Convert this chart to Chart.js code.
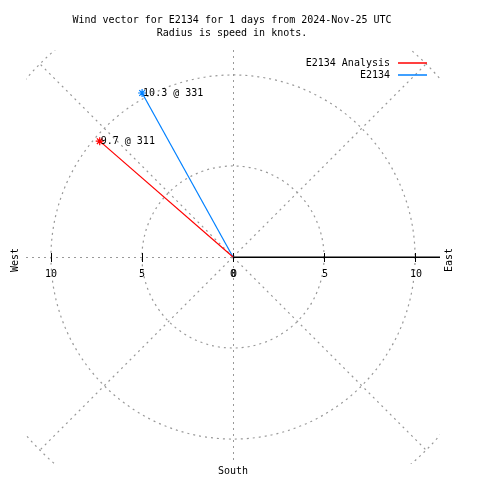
<!DOCTYPE html>
<html>
<head>
<meta charset="utf-8">
<script src="https://cdn.jsdelivr.net/npm/chart.js@4"></script>
<style>
  html, body { margin: 0; padding: 0; background: #fff; }
  #wrap { width: 480px; height: 480px; }
</style>
</head>
<body>
<div id="wrap"><canvas id="windChart" width="480" height="480"></canvas></div>
<script>
// wind data (direction in degrees from north, speed in knots)
const seriesNames = ['E2134 Analysis', 'E2134'];
const directions = [311, 331];
const speeds = [9.7, 10.3];
const seriesColors = ['#ff0000', '#0080ff'];

// grid / ticks
const tickValues = [0, 5, 10];
const gridRadii = [5, 10, 15];
const spokeAngles = [45, 135, 225, 315];
const axisRange = 11.37;

const titleLines = ['Wind vector for E2134 for 1 days from 2024-Nov-25 UTC', 'Radius is speed in knots.'];
const FONT = '10px "DejaVu Sans Mono", monospace';
const GRID = '#999999';

const rad = d => d * Math.PI / 180;
const crisp = v => Math.round(v) + 0.5;

const datasets = seriesNames.map((name, i) => ({
  label: name,
  data: [
    { x: 0, y: 0 },
    { x: speeds[i] * Math.sin(rad(directions[i])), y: speeds[i] * Math.cos(rad(directions[i])) }
  ],
  showLine: true,
  borderColor: seriesColors[i],
  backgroundColor: seriesColors[i],
  borderWidth: 1.2,
  pointStyle: 'star',
  pointRadius: [0, 4],
  pointBorderWidth: 1.2,
  pointBorderColor: seriesColors[i]
}));

// gnuplot-like polar grid, drawn from the chart's own scales
const polarGrid = {
  id: 'polarGrid',
  beforeDatasetsDraw(chart) {
    const { ctx, chartArea: a, scales: { x, y } } = chart;
    const cx = x.getPixelForValue(0), cy = y.getPixelForValue(0);
    const unit = x.getPixelForValue(1) - cx;
    ctx.save();
    ctx.beginPath();
    ctx.rect(a.left, a.top, a.right - a.left, a.bottom - a.top);
    ctx.clip();
    ctx.strokeStyle = GRID;
    ctx.lineWidth = 1.2;
    ctx.setLineDash([2, 4]);
    gridRadii.forEach(r => {
      ctx.beginPath();
      ctx.arc(cx, cy, r * unit, 0, Math.PI * 2);
      ctx.stroke();
    });
    const rMax = gridRadii[gridRadii.length - 1] * unit;
    spokeAngles.forEach(d => {
      ctx.beginPath();
      ctx.moveTo(cx, cy);
      ctx.lineTo(cx + rMax * Math.sin(rad(d)), cy - rMax * Math.cos(rad(d)));
      ctx.stroke();
    });
    ctx.lineWidth = 1;
    ctx.beginPath();
    ctx.moveTo(crisp(cx), a.top);
    ctx.lineTo(crisp(cx), a.bottom);
    ctx.moveTo(a.left, crisp(cy));
    ctx.lineTo(cx, crisp(cy));
    ctx.stroke();
    ctx.restore();

    // solid axis towards east + ticks
    ctx.save();
    ctx.strokeStyle = '#000';
    ctx.lineWidth = 1.5;
    ctx.beginPath();
    ctx.moveTo(cx, cy + 0.25);
    ctx.lineTo(a.right, cy + 0.25);
    ctx.stroke();
    ctx.lineWidth = 1;
    ctx.beginPath();
    tickValues.forEach(v => {
      [-1, 1].forEach(s => {
        const tx = crisp(x.getPixelForValue(s * v));
        ctx.moveTo(tx, cy - 4);
        ctx.lineTo(tx, cy + 5);
      });
    });
    ctx.stroke();
    ctx.restore();
  },
  afterDraw(chart) {
    const { ctx, scales: { x, y } } = chart;
    const cx = x.getPixelForValue(0), cy = y.getPixelForValue(0);
    ctx.save();
    ctx.font = FONT;
    ctx.fillStyle = '#000';
    ctx.textBaseline = 'middle';

    // title
    ctx.textAlign = 'center';
    ctx.fillText(titleLines[0], 232, 20);
    ctx.fillText(titleLines[1], 232, 33);

    // tick labels
    tickValues.forEach(v => {
      ctx.fillText(String(v), x.getPixelForValue(-v), cy + 17);
      ctx.fillText(String(v), x.getPixelForValue(v) + 1, cy + 17);
    });

    // compass labels
    ctx.fillText('South', cx, 471);
    [['West', 15], ['East', 449]].forEach(([t, lx]) => {
      ctx.save();
      ctx.translate(lx, cy + 3);
      ctx.rotate(-Math.PI / 2);
      ctx.fillText(t, 0, 0);
      ctx.restore();
    });

    // vector tip labels
    ctx.textAlign = 'left';
    chart.data.datasets.forEach((ds, i) => {
      const tip = chart.getDatasetMeta(i).data[1];
      ctx.fillText(speeds[i] + ' @ ' + directions[i], tip.x + 1, tip.y);
    });

    // legend
    ctx.textAlign = 'right';
    seriesNames.forEach((name, i) => {
      const ly = 63 + i * 12;
      ctx.fillText(name, 390, ly);
    });
    seriesNames.forEach((name, i) => {
      const ly = 63 + i * 12;
      ctx.strokeStyle = seriesColors[i];
      ctx.lineWidth = 1.5;
      ctx.setLineDash([]);
      ctx.beginPath();
      ctx.moveTo(398, ly);
      ctx.lineTo(427, ly);
      ctx.stroke();
    });
    ctx.restore();
  }
};

new Chart(document.getElementById('windChart'), {
  type: 'scatter',
  data: { datasets: datasets },
  options: {
    responsive: false,
    animation: false,
    layout: { autoPadding: false, padding: { left: 26, right: 40, top: 50, bottom: 16 } },
    scales: {
      x: { display: false, min: -axisRange, max: axisRange },
      y: { display: false, min: -axisRange, max: axisRange }
    },
    plugins: {
      legend: { display: false },
      tooltip: { enabled: false }
    }
  },
  plugins: [polarGrid]
});
</script>
</body>
</html>
